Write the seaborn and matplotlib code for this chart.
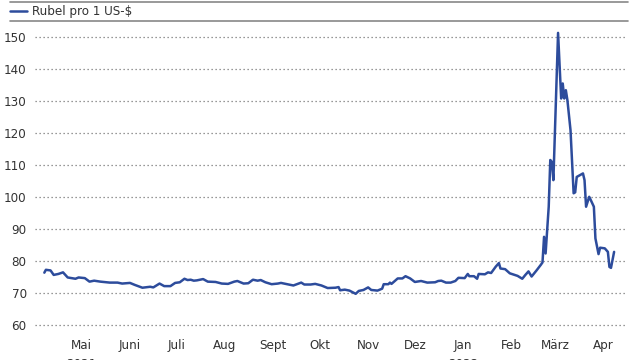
import pandas as pd
import matplotlib.pyplot as plt
import seaborn as sns

# Wechselkurs Rubel je US-Dollar
dates = [
    "2021-04-22", "2021-04-23", "2021-04-26", "2021-04-28", "2021-05-01", "2021-05-04",
    "2021-05-07", "2021-05-12", "2021-05-14", "2021-05-18", "2021-05-21", "2021-05-24",
    "2021-05-28", "2021-06-03", "2021-06-08", "2021-06-11", "2021-06-16", "2021-06-19",
    "2021-06-24", "2021-06-29", "2021-07-01", "2021-07-05", "2021-07-08", "2021-07-12",
    "2021-07-15", "2021-07-18", "2021-07-21", "2021-07-23", "2021-07-25", "2021-07-27",
    "2021-07-29", "2021-08-02", "2021-08-05", "2021-08-10", "2021-08-14", "2021-08-18",
    "2021-08-22", "2021-08-24", "2021-08-28", "2021-08-31", "2021-09-03", "2021-09-06",
    "2021-09-08", "2021-09-11", "2021-09-15", "2021-09-19", "2021-09-21", "2021-09-25",
    "2021-09-29", "2021-10-04", "2021-10-06", "2021-10-10", "2021-10-13", "2021-10-17",
    "2021-10-21", "2021-10-26", "2021-10-28", "2021-10-29", "2021-11-01", "2021-11-04",
    "2021-11-06", "2021-11-08", "2021-11-10", "2021-11-13", "2021-11-16", "2021-11-18",
    "2021-11-22", "2021-11-25", "2021-11-26", "2021-11-29", "2021-11-30", "2021-12-01",
    "2021-12-05", "2021-12-08", "2021-12-10", "2021-12-13", "2021-12-16", "2021-12-20",
    "2021-12-24", "2021-12-29", "2021-12-31", "2022-01-02", "2022-01-05", "2022-01-08",
    "2022-01-11", "2022-01-13", "2022-01-17", "2022-01-19", "2022-01-20", "2022-01-23",
    "2022-01-25", "2022-01-26", "2022-01-30", "2022-02-01", "2022-02-03", "2022-02-06",
    "2022-02-08", "2022-02-09", "2022-02-12", "2022-02-15", "2022-02-20", "2022-02-23",
    "2022-02-25", "2022-02-27", "2022-03-01", "2022-03-04", "2022-03-07", "2022-03-08",
    "2022-03-09", "2022-03-10", "2022-03-12", "2022-03-13", "2022-03-14", "2022-03-15",
    "2022-03-16", "2022-03-18", "2022-03-20", "2022-03-21", "2022-03-22", "2022-03-23",
    "2022-03-24", "2022-03-26", "2022-03-28", "2022-03-29", "2022-03-30", "2022-04-03",
    "2022-04-04", "2022-04-05", "2022-04-07", "2022-04-08", "2022-04-10", "2022-04-11",
    "2022-04-13", "2022-04-14", "2022-04-17", "2022-04-19", "2022-04-20", "2022-04-21",
    "2022-04-23",
]
rubel = [
    76.5, 77.4, 77.2, 75.8, 76.1, 76.6,
    75.0, 74.6, 75.0, 74.8, 73.7, 74.0,
    73.7, 73.4, 73.4, 73.1, 73.3, 72.7,
    71.8, 72.1, 71.9, 73.1, 72.3, 72.3,
    73.3, 73.5, 74.6, 74.2, 74.3, 74.0,
    74.1, 74.5, 73.7, 73.6, 73.1, 73.0,
    73.7, 73.9, 73.1, 73.2, 74.3, 74.0,
    74.2, 73.5, 72.9, 73.1, 73.3, 72.9,
    72.5, 73.4, 72.8, 72.8, 73.0, 72.5,
    71.7, 71.8, 72.0, 71.0, 71.2, 70.9,
    70.4, 69.9, 70.8, 71.1, 71.9, 71.1,
    70.9, 71.5, 72.9, 72.9, 73.4, 73.0,
    74.7, 74.7, 75.4, 74.7, 73.6, 73.9,
    73.4, 73.5, 73.9, 74.0, 73.4, 73.4,
    73.9, 74.9, 74.8, 76.1, 75.4, 75.4,
    74.6, 76.1, 76.0, 76.6, 76.4, 78.4,
    79.5, 77.8, 77.6, 76.3, 75.5, 74.6,
    75.8, 76.9, 75.3, 77.1, 79.0, 79.7,
    87.7, 82.5, 97.1, 111.7, 111.1, 105.4,
    121.0, 151.4, 130.9, 135.6, 130.9, 133.5,
    130.4, 121.0, 101.3, 101.6, 106.4, 107.5,
    105.4, 97.1, 100.2, 99.2, 97.1, 87.2,
    82.3, 84.3, 84.1, 83.0, 78.3, 78.0,
    83.0,
]
month_labels = ["Mai\n2021", "Juni", "Juli", "Aug", "Sept", "Okt", "Nov", "Dez",
                "Jan\n2022", "Feb", "März", "Apr"]
month_ticks = pd.date_range("2021-05-01", periods=12, freq="MS") + pd.Timedelta(days=15)
y_ticks = list(range(60, 151, 10))

df = pd.DataFrame({"Datum": pd.to_datetime(dates), "Rubel": rubel})

sns.set_style("white")
plt.rcParams['font.family'] = ['DejaVu Sans']
plt.rcParams['font.stretch'] = 'condensed'
txt = dict(fontsize=9.5, color="#333333", fontstretch="condensed")

fig = plt.figure(figsize=(6.4, 3.6), dpi=100)
ax = fig.add_axes([35 / 640, 1 - 325.5 / 360, 590 / 640, 303.5 / 360])

sns.lineplot(data=df, x="Datum", y="Rubel", ax=ax, color="#2d4c9c", linewidth=1.8)

ax.set_xlim(pd.Timestamp("2021-04-16"), pd.Timestamp("2022-04-30"))
ax.set_ylim(60, 154.8)
ax.set_yticks(y_ticks)
ax.set_yticklabels([str(v) for v in y_ticks], **txt)
ax.set_xticks(month_ticks)
ax.set_xticklabels(month_labels, linespacing=1.6, **txt)
ax.tick_params(axis="both", length=0)
ax.tick_params(axis="y", pad=6)
ax.tick_params(axis="x", pad=10)
ax.set_xlabel("")
ax.set_ylabel("")
for s in ax.spines.values():
    s.set_visible(False)
ax.grid(axis="y", color="#777777", linestyle=(0, (1, 2.2)), linewidth=0.9, clip_on=False)
ax.set_axisbelow(True)

# Legende und Linien oben
fig.add_artist(plt.Line2D([10 / 640, 628 / 640], [1 - 1.5 / 360, 1 - 1.5 / 360],
                          color="#888888", linewidth=1.2))
fig.add_artist(plt.Line2D([10 / 640, 628 / 640], [1 - 21 / 360, 1 - 21 / 360],
                          color="#888888", linewidth=1.2))
fig.add_artist(plt.Line2D([10 / 640, 27 / 640], [1 - 11 / 360, 1 - 11 / 360],
                          color="#2d4c9c", linewidth=1.8))
fig.text(32 / 640, 1 - 11 / 360, "Rubel pro 1 US-$", va="center", ha="left", **txt)

fig.savefig("out.png", dpi=100)
